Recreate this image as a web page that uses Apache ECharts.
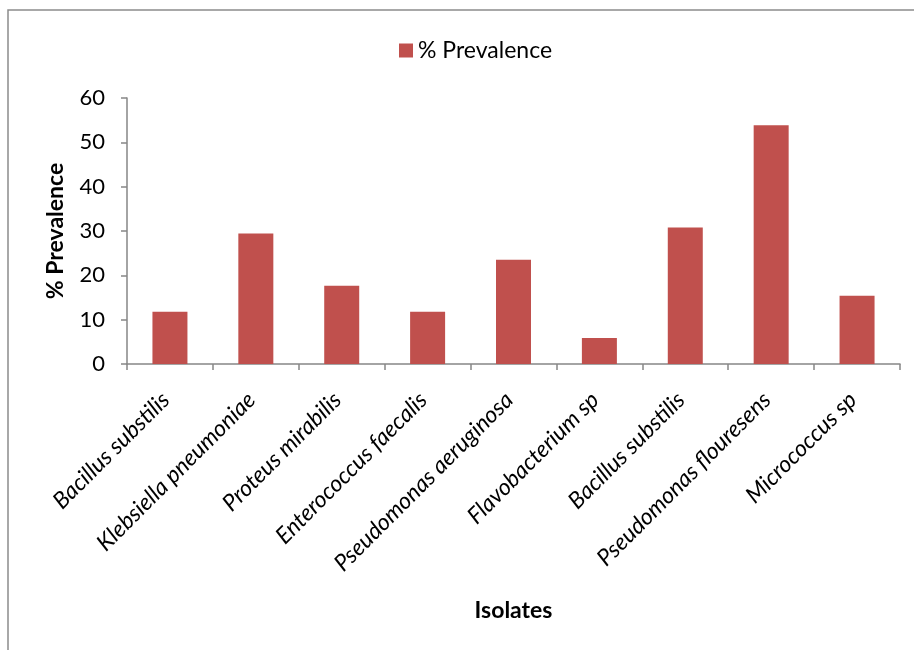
<!DOCTYPE html>
<html>
<head>
<meta charset="utf-8">
<script src="https://cdn.jsdelivr.net/npm/echarts@6/dist/echarts.min.js"></script>
<style>
  html, body { margin: 0; padding: 0; background: #fff; }
  #chart { width: 914px; height: 650px; }
</style>
</head>
<body>
<div id="chart"></div>
<script>
// Bacterial isolates and their prevalence (%)
const isolates = [
  'Bacillus substilis',
  'Klebsiella pneumoniae',
  'Proteus mirabilis',
  'Enterococcus faecalis',
  'Pseudomonas aeruginosa',
  'Flavobacterium sp',
  'Bacillus substilis',
  'Pseudomonas flouresens',
  'Micrococcus sp'
];
const prevalence = [11.76, 29.41, 17.65, 11.76, 23.53, 5.88, 30.77, 53.85, 15.38];
const seriesName = '% Prevalence';

const FONT = 'Lato, "Open Sans", sans-serif';
const AXIS_GREY = '#868686';

const chart = echarts.init(document.getElementById('chart'), null, { renderer: 'canvas' });

chart.setOption({
  animation: false,
  backgroundColor: '#fff',
  textStyle: { fontFamily: FONT },
  graphic: [{
    type: 'rect',
    shape: { x: 8, y: 10, width: 920, height: 660 },
    style: { fill: 'none', stroke: '#8c8c8c', lineWidth: 1.5 },
    silent: true
  }],
  legend: {
    data: [seriesName],
    top: 34,
    left: 394,
    itemWidth: 14,
    itemHeight: 14,
    itemGap: 6,
    icon: 'rect',
    textStyle: { fontFamily: FONT, fontSize: 23, color: '#000' }
  },
  grid: { left: 127, right: 14, top: 98, bottom: 286, containLabel: false },
  xAxis: {
    type: 'category',
    data: isolates,
    name: 'Isolates',
    nameLocation: 'middle',
    nameGap: 235,
    nameTextStyle: { fontFamily: FONT, fontSize: 23, fontWeight: 'bold', color: '#000' },
    axisLine: { lineStyle: { color: AXIS_GREY, width: 1.5 } },
    axisTick: { show: true, alignWithLabel: false, length: 6, lineStyle: { color: AXIS_GREY, width: 1.5 } },
    axisLabel: {
      rotate: 45,
      interval: 0,
      margin: 28,
      padding: [0, 6, 0, 0],
      fontFamily: FONT,
      fontStyle: 'italic',
      fontSize: 23,
      color: '#000'
    }
  },
  yAxis: {
    type: 'value',
    min: 0,
    max: 60,
    interval: 10,
    name: '% Prevalence',
    nameLocation: 'middle',
    nameGap: 60,
    nameRotate: 90,
    nameTextStyle: { fontFamily: FONT, fontSize: 23, fontWeight: 'bold', color: '#000' },
    splitLine: { show: false },
    axisLine: { show: true, lineStyle: { color: AXIS_GREY, width: 1.5 } },
    axisTick: { show: true, length: 6, lineStyle: { color: AXIS_GREY, width: 1.5 } },
    axisLabel: { fontFamily: FONT, fontSize: 22, color: '#000', margin: 22 }
  },
  series: [{
    name: seriesName,
    type: 'bar',
    data: prevalence,
    barWidth: 35,
    itemStyle: { color: '#c0504d' }
  }]
});
</script>
</body>
</html>
